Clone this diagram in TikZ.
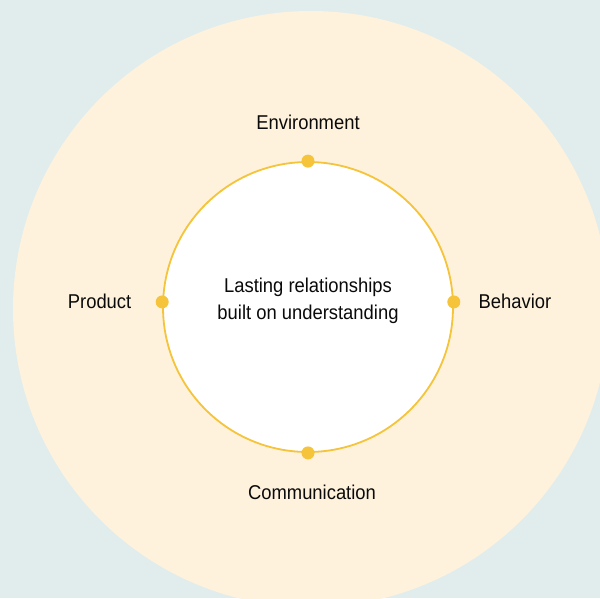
\documentclass[tikz,border=0pt]{standalone}
\usepackage{fontspec}
\setmainfont{Liberation Sans}[FakeStretch=0.92]
\usepackage{tikz}
\usetikzlibrary{positioning}

\definecolor{bgteal}{HTML}{E1EDED}
\definecolor{cream}{HTML}{FEF2DD}
\definecolor{gold}{HTML}{F5C43A}
\definecolor{ink}{HTML}{0A0A0A}

\begin{document}
\begin{tikzpicture}[
  x=1pt, y=-1pt,
  core/.style={circle, draw=gold, line width=1.8pt, fill=white, minimum size=290pt, inner sep=0pt},
  knot/.style={circle, fill=gold, inner sep=0pt, minimum size=13pt},
  lbl/.style={font=\fontsize{20}{27}\selectfont, text=ink, inner sep=0pt, text height=14pt, text depth=0pt},
  msg/.style={font=\fontsize{20}{27}\selectfont, text=ink, align=center, inner sep=0pt}
]

  \useasboundingbox (0,0) rectangle (600,598);
  \fill[bgteal] (0,0) rectangle (600,598);
  \begin{scope}
    \clip (0,0) rectangle (600,598);
    \fill[cream] (311,309) circle[radius=298];
  \end{scope}

  \node[core] (core) at (308,307) {};
  \node[msg] (msg) at ([yshift=6pt]core.center) {Lasting relationships\\built on understanding};

  \node[knot] (dotN) at (core.north) {};
  \node[knot] (dotS) at (core.south) {};
  \node[knot] (dotW) at (core.178) {};
  \node[knot] (dotE) at (core.2.5) {};

  \node[lbl, above=25pt of dotN] (env) {Environment};
  \node[lbl, below=26pt of dotS, xshift=4pt] (comm) {Communication};
  \node[lbl, left=24pt of dotW] (prod) {Product};
  \node[lbl, right=18pt of dotE] (behav) {Behavior};
\end{tikzpicture}
\end{document}
